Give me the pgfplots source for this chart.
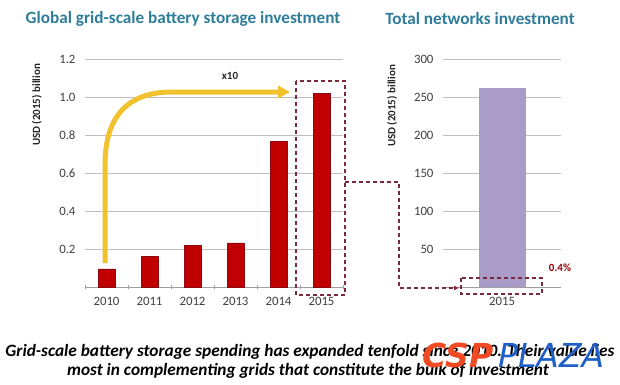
\documentclass[border=0pt]{standalone}
\usepackage{pgfplots}
\pgfplotsset{compat=1.18}
\usepackage{fontspec}
\setmainfont{Carlito}
\newfontfamily\wmfont{DejaVu Sans}
\usetikzlibrary{arrows.meta}
\definecolor{titleblue}{HTML}{2F7D9B}
\definecolor{barred}{HTML}{C00000}
\definecolor{barredd}{HTML}{8E0A12}
\definecolor{lav}{HTML}{A99CC9}
\definecolor{maroon}{HTML}{7A2A3A}
\definecolor{ayellow}{HTML}{F2C12E}
\definecolor{tickgray}{HTML}{404040}
\definecolor{wmred}{HTML}{F04A24}
\definecolor{wmblue}{HTML}{1F5FC8}
\begin{document}
\begin{tikzpicture}[x=1pt,y=1pt]
\useasboundingbox (0,0) rectangle (620,384);
\fill[white] (0,0) rectangle (620,384);
\pgfplotsset{
  common/.style={
    scale only axis, anchor=south west, clip=false,
    enlargelimits=false,
    /pgf/number format/assume math mode=true,
    axis lines=left, axis line style={-},
    x axis line style={draw=gray!75, line width=0.8pt},
    y axis line style={draw=none},
    ymajorgrids, major grid style={gray!50, line width=0.8pt},
    major tick length=0pt,
    tick label style={font=\fontsize{12.8}{14}\selectfont, text=tickgray},
    yticklabel style={xshift=-6pt},
    xticklabel style={yshift=-7pt},
  }
}
\begin{axis}[common,
  at={(85pt,97pt)}, width=258pt, height=228pt,
  xmin=-0.5, xmax=5.5, ymin=0, ymax=1.2,
  ytick={0.2,0.4,0.6,0.8,1.0,1.2},
  yticklabel style={/pgf/number format/.cd, fixed, fixed zerofill, precision=1},
  xtick={0,1,2,3,4,5}, xticklabels={2010,2011,2012,2013,2014,2015},
  minor xtick={-0.5,0.5,1.5,2.5,3.5,4.5,5.5},
  minor tick length=4pt, minor tick style={draw=gray!75, line width=0.8pt},
  tick align=center,
]
\addplot[ybar, bar width=17pt, fill=barred, draw=barredd] coordinates {
 (0,0.095) (1,0.163) (2,0.22) (3,0.232) (4,0.765) (5,1.02)};
\end{axis}
\begin{axis}[common,
  at={(443pt,97pt)}, width=118pt, height=228pt,
  xmin=-0.5, xmax=0.5, ymin=0, ymax=300,
  ytick={50,100,150,200,250,300},
  xtick={0}, xticklabels={2015},
]
\addplot[ybar, bar width=47pt, fill=lav, draw=none] coordinates {(0,262)};
\end{axis}
% titles
\node[text=titleblue, font=\fontsize{17.2}{20}\selectfont\bfseries] at (183pt,365pt) {Global grid-scale battery storage investment};
\node[text=titleblue, font=\fontsize{17.2}{20}\selectfont\bfseries] at (480pt,365pt) {Total networks investment};
% y labels
\node[rotate=90, text=black!85, font=\fontsize{11}{13}\selectfont\bfseries] at (37pt,279pt) {USD (2015) billion};
\node[rotate=90, text=black!85, font=\fontsize{11}{13}\selectfont\bfseries] at (392pt,278pt) {USD (2015) billion};
% yellow arrow
\draw[ayellow, line width=5pt, -{Triangle[length=12pt,width=12pt]}]
  (105pt,121pt) -- (105pt,219pt) .. controls (105pt,268pt) and (128pt,292pt) .. (172pt,292pt) -- (290pt,292pt);
\node[font=\fontsize{11}{13}\selectfont\bfseries, text=black!85] at (230pt,308pt) {x10};
% dashed annotations
\draw[maroon, line width=1.3pt, dash pattern=on 4pt off 3pt] (296pt,303pt) rectangle (345pt,89pt);
\draw[maroon, line width=1.3pt, dash pattern=on 4pt off 3pt, -{Latex[length=5pt,width=5pt]}]
  (345pt,202pt) -- (399pt,202pt) -- (399pt,96pt) -- (459pt,96pt);
\draw[maroon, line width=1.3pt, dash pattern=on 4pt off 3pt] (461pt,106pt) rectangle (542pt,90pt);
\node[font=\fontsize{11}{13}\selectfont\bfseries, text=barred!80!black] at (560pt,116pt) {0.4\%};
% caption
\node[font=\fontsize{17.3}{20}\selectfont\bfseries\itshape] at (310pt,32pt) {Grid-scale battery storage spending has expanded tenfold since 2010. Their value lies};
\node[font=\fontsize{17.3}{20}\selectfont\bfseries\itshape] at (308pt,13pt) {most in complementing grids that constitute the bulk of investment};
% watermark
\node[anchor=west, inner sep=0pt, text=wmred, font=\wmfont\fontsize{33}{33}\selectfont\bfseries\itshape] at (422pt,29pt) {CSP};
\node[anchor=west, inner sep=0pt, text=wmblue, font=\wmfont\fontsize{33}{33}\selectfont\itshape] at (498pt,29pt) {PLAZA};
\end{tikzpicture}
\end{document}
